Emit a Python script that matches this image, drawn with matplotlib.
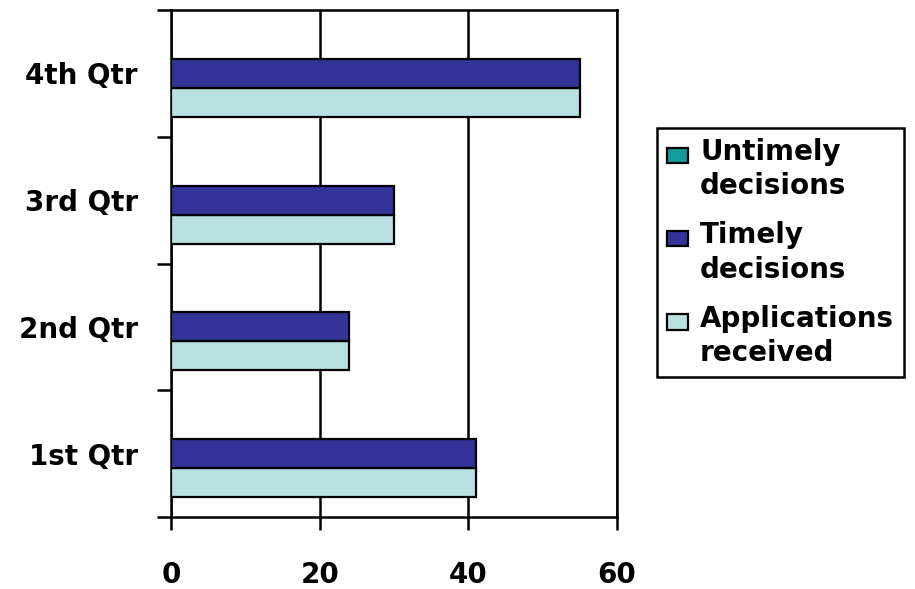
import numpy as np
import matplotlib.pyplot as plt
from matplotlib.patches import Rectangle
from matplotlib.legend_handler import HandlerPatch

quarters = ['1st Qtr', '2nd Qtr', '3rd Qtr', '4th Qtr']
applications = [41, 24, 30, 55]
timely = [41, 24, 30, 55]
untimely = [0, 0, 0, 0]

series_names = ['Untimely\ndecisions', 'Timely\ndecisions', 'Applications\nreceived']
x_ticks = [0, 20, 40, 60]

plt.rcParams['font.family'] = ['DejaVu Sans']
plt.rcParams['font.weight'] = 'bold'

fig = plt.figure(figsize=(9.15, 5.89), dpi=100)
ax = fig.add_axes([171/915, 72/589, 446/915, 507/589])

y = np.arange(len(quarters))
h = 0.229
b_app = ax.barh(y - h, applications, height=h, color='#B9E1E1', edgecolor='black', linewidth=1.6, zorder=3)
b_tim = ax.barh(y, timely, height=h, color='#333399', edgecolor='black', linewidth=1.6, zorder=3)
b_unt = ax.barh(y + h, untimely, height=h, color='#139C9C', edgecolor='black', linewidth=1.6, zorder=3)

ax.set_xlim(0, 60)
ax.set_ylim(-0.5, len(quarters) - 0.5)

# vertical gridlines only
ax.set_xticks(x_ticks)
ax.set_xticklabels([str(t) for t in x_ticks], fontsize=20, fontweight='bold')
ax.xaxis.grid(True, color='black', linewidth=1.8, zorder=0)
ax.set_axisbelow(True)
ax.tick_params(axis='x', length=9.5, width=1.8, pad=22)

# category labels at centres, ticks at the boundaries
ax.set_yticks(y)
ax.set_yticklabels(quarters, fontsize=20, fontweight='bold')
ax.set_yticks(np.arange(-0.5, len(quarters)), minor=True)
ax.tick_params(axis='y', which='major', length=0, pad=24)
ax.tick_params(axis='y', which='minor', length=10, width=1.8)

for s in ax.spines.values():
    s.set_linewidth(1.8)


def swatch(legend, orig_handle, xdescent, ydescent, width, height, fontsize):
    # small square sitting beside the first text line
    return Rectangle((-xdescent, -ydescent + 0.05 * height), width, 0.58 * height)


leg = ax.legend([b_unt.patches[0], b_tim.patches[0], b_app.patches[0]], series_names,
                loc='upper left',
                bbox_to_anchor=(657/915, 1 - 128/589), bbox_transform=fig.transFigure,
                prop={'size': 20, 'weight': 'bold'}, fancybox=False, framealpha=1,
                edgecolor='black', handlelength=0.75, handleheight=1.1,
                handletextpad=0.45, labelspacing=0.75, borderpad=0.35,
                borderaxespad=0,
                handler_map={Rectangle: HandlerPatch(patch_func=swatch)})
leg.get_frame().set_linewidth(1.8)
for t in leg.get_texts():
    t.set_linespacing(1.3)
# put each swatch next to the first line of its label
for col in leg._legend_handle_box.get_children():
    for item in col.get_children():
        item.align = 'top'

fig.savefig('out.png', dpi=100)
